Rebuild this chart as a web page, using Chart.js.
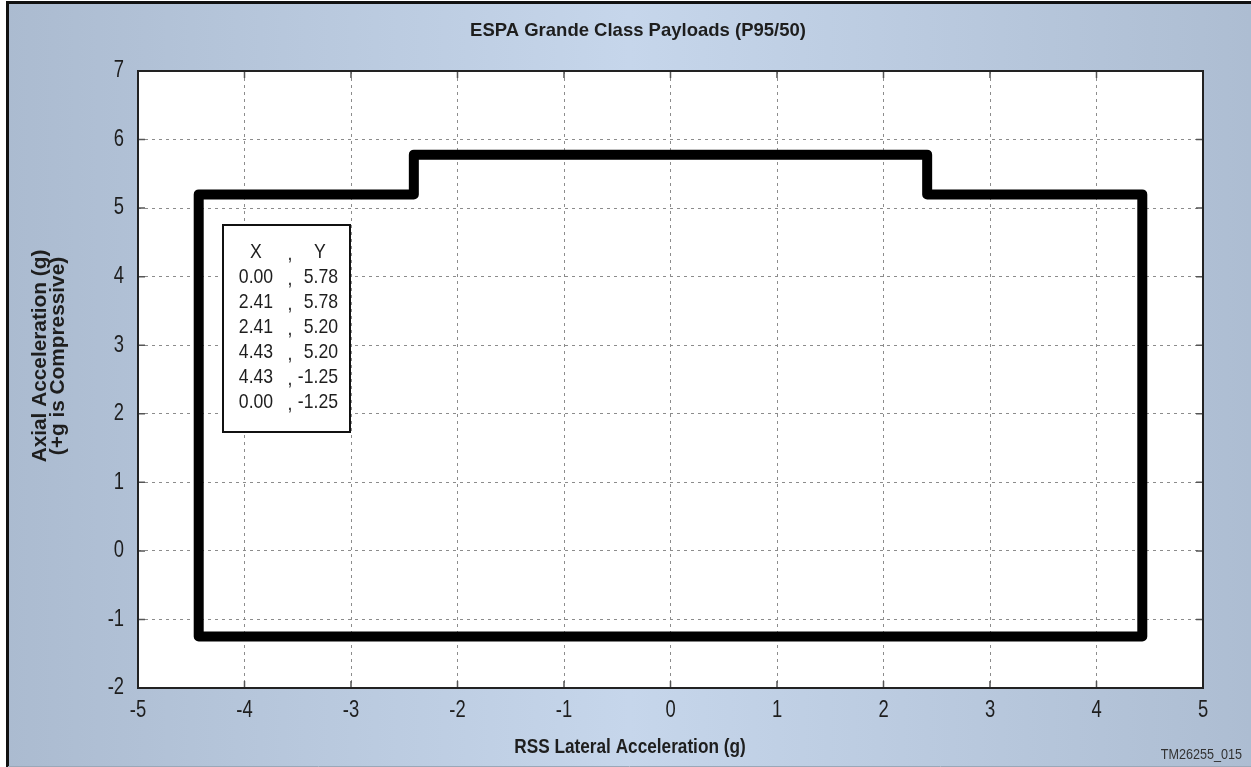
<!DOCTYPE html>
<html lang="en">
  <head>
    <meta charset="UTF-8" />
    <title>ESPA Grande Class Payloads (P95/50)</title>
    <script src="https://cdn.jsdelivr.net/npm/chart.js"></script>
    <style>
      html, body { margin: 0; padding: 0; background: #fff; }
      #wrap { width: 1251px; height: 767px; }
    </style>
  </head>
  <body>
    <div id="wrap"><canvas id="myChart"></canvas></div>
    <script>
      // load envelope (full outline, mirrored about x = 0)
      const envX = [-4.43, -4.43, -2.41, -2.41, 2.41, 2.41, 4.43, 4.43, -4.43];
      const envY = [-1.25, 5.2, 5.2, 5.78, 5.78, 5.2, 5.2, -1.25, -1.25];

      // corner table printed in the box
      const tableX = ["0.00", "2.41", "2.41", "4.43", "4.43", "0.00"];
      const tableY = ["5.78", "5.78", "5.20", "5.20", "-1.25", "-1.25"];

      const chartTitle = "ESPA Grande Class Payloads (P95/50)";
      const xTitle = "RSS Lateral Acceleration (g)";
      const yTitle = ["Axial Acceleration (g)", "(+g is Compressive)"];
      const figId = "TM26255_015";

      const FONT = "'Liberation Sans', Arial, sans-serif";
      const INK = "#1e1e1e";

      // squeeze text sideways to mimic the narrow face of the original
      function txt(c, s, x, y, font, sx, align, rot) {
        c.save();
        c.translate(x, y);
        if (rot) c.rotate(rot);
        c.scale(sx, 1);
        c.font = font;
        c.textAlign = align;
        c.textBaseline = "middle";
        c.fillText(s, 0, 0);
        c.restore();
      }

      const decor = {
        id: "decor",
        beforeDraw(chart) {
          const c = chart.ctx;
          const w = chart.width, h = chart.height;
          c.save();
          c.fillStyle = "#fff";
          c.fillRect(0, 0, w, h);
          const g = c.createLinearGradient(7, 0, w, 0);
          g.addColorStop(0, "#abbbd0");
          g.addColorStop(0.5, "#c6d6eb");
          g.addColorStop(1, "#adbdd2");
          c.fillStyle = g;
          c.fillRect(7, 2, w - 7, 764);
          c.strokeStyle = "#111";
          c.lineWidth = 3;
          c.beginPath();
          c.moveTo(7.5, 767);
          c.lineTo(7.5, 2.5);
          c.lineTo(w, 2.5);
          c.stroke();
          c.strokeStyle = "#9aa8b8";
          c.lineWidth = 1;
          c.beginPath();
          c.moveTo(8, 766.5);
          c.lineTo(w, 766.5);
          c.stroke();
          const a = chart.chartArea;
          c.fillStyle = "#fff";
          c.fillRect(a.left, a.top, a.right - a.left, a.bottom - a.top);
          c.restore();
        },
        beforeDatasetsDraw(chart) {
          const c = chart.ctx;
          const a = chart.chartArea;
          const xs = chart.scales.x, ys = chart.scales.y;
          c.save();
          // small inward tick marks on all four sides
          c.strokeStyle = "#555";
          c.lineWidth = 1.5;
          c.beginPath();
          xs.ticks.forEach((t) => {
            const px = xs.getPixelForValue(t.value);
            c.moveTo(px, a.top); c.lineTo(px, a.top + 7);
            c.moveTo(px, a.bottom); c.lineTo(px, a.bottom - 7);
          });
          ys.ticks.forEach((t) => {
            const py = ys.getPixelForValue(t.value);
            c.moveTo(a.left, py); c.lineTo(a.left + 7, py);
            c.moveTo(a.right, py); c.lineTo(a.right - 7, py);
          });
          c.stroke();
          c.restore();
        },
        afterDatasetsDraw(chart) {
          const c = chart.ctx;
          const a = chart.chartArea;
          const xs = chart.scales.x, ys = chart.scales.y;
          c.save();
          // plot frame
          c.strokeStyle = "#222";
          c.lineWidth = 2;
          c.strokeRect(a.left, a.top, a.right - a.left, a.bottom - a.top);

          c.fillStyle = INK;
          // tick labels
          const tickFont = "23px " + FONT;
          xs.ticks.forEach((t) => {
            txt(c, String(t.value), xs.getPixelForValue(t.value), a.bottom + 23, tickFont, 0.8, "center");
          });
          ys.ticks.forEach((t) => {
            txt(c, String(t.value), a.left - 14, ys.getPixelForValue(t.value), tickFont, 0.8, "right");
          });

          // coordinate table
          const bx = a.left + 85, by = a.top + 154, bw = 127, bh = 207;
          c.fillStyle = "#fff";
          c.fillRect(bx, by, bw, bh);
          c.strokeStyle = "#111";
          c.lineWidth = 2;
          c.strokeRect(bx, by, bw, bh);
          c.fillStyle = INK;
          const tf = "21px " + FONT;
          const rowH = 25.1;
          const y0 = by + 27;
          txt(c, "X", bx + 33, y0, tf, 0.84, "center");
          txt(c, ",", bx + 67, y0 + 2, tf, 0.84, "center");
          txt(c, "Y", bx + 97, y0, tf, 0.84, "center");
          for (let i = 0; i < tableX.length; i++) {
            const y = y0 + rowH * (i + 1);
            txt(c, tableX[i], bx + 33, y, tf, 0.84, "center");
            txt(c, ",", bx + 67, y + 2, tf, 0.84, "center");
            txt(c, tableY[i], bx + 115, y, tf, 0.84, "right");
          }

          // titles
          txt(c, chartTitle, 638, 31, "bold 18.5px " + FONT, 1, "center");
          txt(c, xTitle, 630, 747, "bold 20px " + FONT, 0.86, "center");
          txt(c, yTitle[0], 40, 356, "bold 20px " + FONT, 1.04, "center", -Math.PI / 2);
          txt(c, yTitle[1], 58, 356, "bold 20px " + FONT, 1.04, "center", -Math.PI / 2);
          c.fillStyle = "#333";
          txt(c, figId, 1242, 755, "15px " + FONT, 0.84, "right");
          c.restore();
        },
      };

      const gridStyle = {
        color: "#8c8c8c",
        lineWidth: 1,
        drawTicks: false,
      };

      new Chart(document.getElementById("myChart"), {
        type: "scatter",
        data: {
          datasets: [
            {
              data: envX.map((x, i) => ({ x: x, y: envY[i] })),
              showLine: true,
              borderColor: "#000",
              borderWidth: 10,
              borderJoinStyle: "round",
              borderCapStyle: "round",
              pointRadius: 0,
              fill: false,
            },
          ],
        },
        options: {
          responsive: true,
          maintainAspectRatio: false,
          animation: false,
          layout: { padding: { top: 71, right: 48, left: 0, bottom: 0 } },
          plugins: { legend: { display: false }, tooltip: { enabled: false } },
          scales: {
            x: {
              type: "linear",
              min: -5,
              max: 5,
              ticks: { stepSize: 1, display: false },
              grid: gridStyle,
              border: { display: false, dash: [3, 4] },
              afterFit(s) { s.height = 79; },
            },
            y: {
              type: "linear",
              min: -2,
              max: 7,
              ticks: { stepSize: 1, display: false },
              grid: gridStyle,
              border: { display: false, dash: [3, 4] },
              afterFit(s) { s.width = 138; },
            },
          },
        },
        plugins: [decor],
      });
    </script>
  </body>
</html>
